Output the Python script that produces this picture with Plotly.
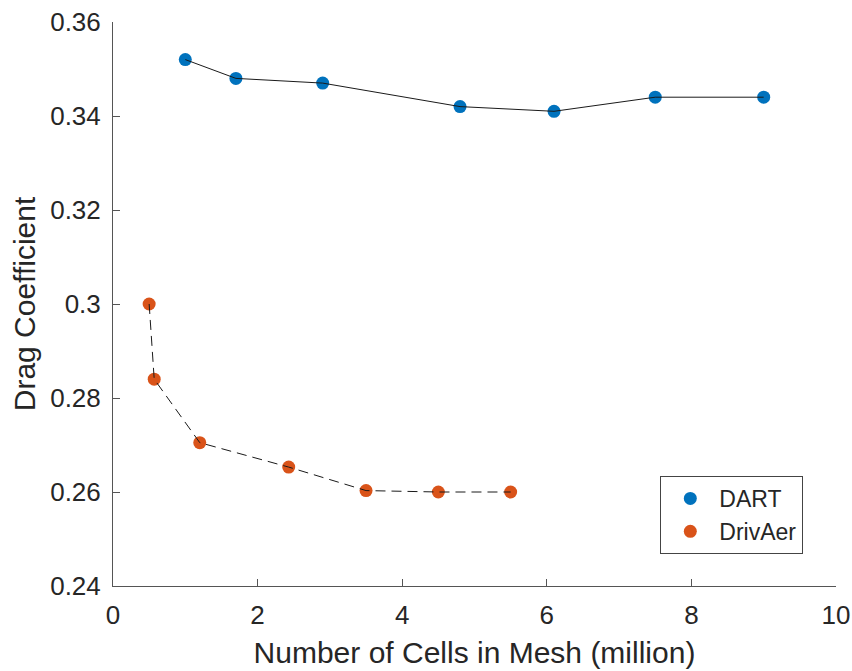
import plotly.graph_objects as go

# Mesh-convergence study: drag coefficient vs. number of cells
dart_cells = [1.0, 1.7, 2.9, 4.8, 6.1, 7.5, 9.0]
dart_cd = [0.352, 0.348, 0.347, 0.342, 0.341, 0.344, 0.344]

drivaer_cells = [0.5, 0.57, 1.2, 2.43, 3.5, 4.5, 5.5]
drivaer_cd = [0.300, 0.284, 0.2705, 0.2653, 0.2603, 0.2600, 0.2600]

x_ticks = [0, 2, 4, 6, 8, 10]
y_ticks = [0.24, 0.26, 0.28, 0.30, 0.32, 0.34, 0.36]
y_tick_text = ["0.24", "0.26", "0.28", "0.3", "0.32", "0.34", "0.36"]

BLUE = "#0072BD"
ORANGE = "#D95319"
INK = "#262626"
FONT = "Liberation Sans, Arial, sans-serif"

fig = go.Figure()

# markers first, so the connecting lines sit on top of them
fig.add_trace(go.Scatter(x=dart_cells, y=dart_cd, mode="markers", name="DART",
                         marker=dict(color=BLUE, size=13)))
fig.add_trace(go.Scatter(x=drivaer_cells, y=drivaer_cd, mode="markers", name="DrivAer",
                         marker=dict(color=ORANGE, size=13)))
fig.add_trace(go.Scatter(x=dart_cells, y=dart_cd, mode="lines", showlegend=False,
                         line=dict(color="#1a1a1a", width=1)))
fig.add_trace(go.Scatter(x=drivaer_cells, y=drivaer_cd, mode="lines", showlegend=False,
                         line=dict(color="#1a1a1a", width=1, dash="10px,6px")))

fig.update_layout(
    width=852, height=671,
    margin=dict(l=113, r=16, t=22, b=85),
    paper_bgcolor="white", plot_bgcolor="white",
    font=dict(family=FONT, color=INK),
    showlegend=True,
    legend=dict(
        x=0.757, y=0.195, xanchor="left", yanchor="top",
        bgcolor="white", bordercolor="#444444", borderwidth=1,
        font=dict(size=23, family=FONT, color=INK),
        itemwidth=48, tracegroupgap=0,
    ),
)

fig.update_xaxes(
    range=[0, 10], tickvals=x_ticks, ticktext=[str(v) for v in x_ticks],
    showline=True, linecolor="#555555", linewidth=1, mirror=False,
    ticks="inside", ticklen=7, tickcolor="#555555", tickwidth=1,
    showgrid=False, zeroline=False, automargin=False,
    tickfont=dict(size=26, family=FONT, color=INK),
    ticklabelstandoff=6,
    title=dict(text="Number of Cells in Mesh (million)",
               font=dict(size=30, family=FONT, color=INK), standoff=12),
)
fig.update_yaxes(
    range=[0.24, 0.36], tickvals=y_ticks, ticktext=y_tick_text,
    showline=True, linecolor="#555555", linewidth=1, mirror=False,
    ticks="inside", ticklen=7, tickcolor="#555555", tickwidth=1,
    showgrid=False, zeroline=False, automargin=False,
    tickfont=dict(size=26, family=FONT, color=INK),
    ticklabelstandoff=6,
    title=dict(text="Drag Coefficient",
               font=dict(size=30, family=FONT, color=INK), standoff=5),
)

fig.write_html("out.html")
